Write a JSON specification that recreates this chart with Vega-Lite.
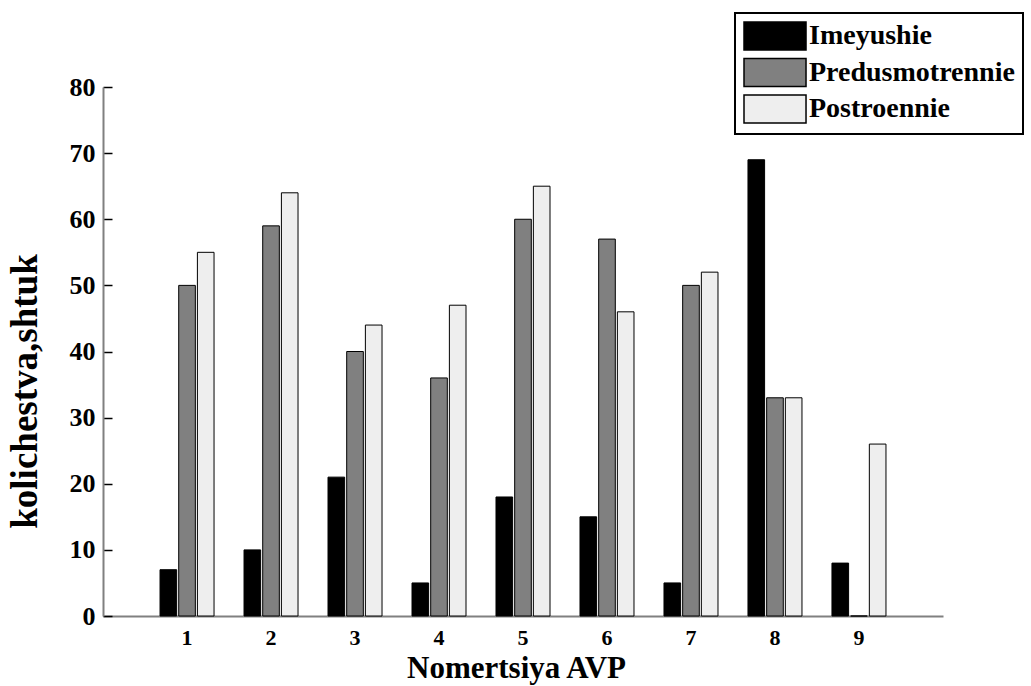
{
  "$schema": "https://vega.github.io/schema/vega-lite/v6.json",
  "autosize": "none",
  "padding": {"left": 103, "top": 87, "right": 88, "bottom": 70},
  "width": 840,
  "height": 529,
  "background": "white",
  "data": {
    "values": [
      {"n": "1", "series": "Imeyushie", "v": 7},
      {"n": "1", "series": "Predusmotrennie", "v": 50},
      {"n": "1", "series": "Postroennie", "v": 55},
      {"n": "2", "series": "Imeyushie", "v": 10},
      {"n": "2", "series": "Predusmotrennie", "v": 59},
      {"n": "2", "series": "Postroennie", "v": 64},
      {"n": "3", "series": "Imeyushie", "v": 21},
      {"n": "3", "series": "Predusmotrennie", "v": 40},
      {"n": "3", "series": "Postroennie", "v": 44},
      {"n": "4", "series": "Imeyushie", "v": 5},
      {"n": "4", "series": "Predusmotrennie", "v": 36},
      {"n": "4", "series": "Postroennie", "v": 47},
      {"n": "5", "series": "Imeyushie", "v": 18},
      {"n": "5", "series": "Predusmotrennie", "v": 60},
      {"n": "5", "series": "Postroennie", "v": 65},
      {"n": "6", "series": "Imeyushie", "v": 15},
      {"n": "6", "series": "Predusmotrennie", "v": 57},
      {"n": "6", "series": "Postroennie", "v": 46},
      {"n": "7", "series": "Imeyushie", "v": 5},
      {"n": "7", "series": "Predusmotrennie", "v": 50},
      {"n": "7", "series": "Postroennie", "v": 52},
      {"n": "8", "series": "Imeyushie", "v": 69},
      {"n": "8", "series": "Predusmotrennie", "v": 33},
      {"n": "8", "series": "Postroennie", "v": 33},
      {"n": "9", "series": "Imeyushie", "v": 8},
      {"n": "9", "series": "Predusmotrennie", "v": 0},
      {"n": "9", "series": "Postroennie", "v": 26}
    ]
  },
  "mark": {"type": "bar", "stroke": "black", "strokeWidth": 1},
  "encoding": {
    "x": {
      "field": "n",
      "type": "ordinal",
      "scale": {"paddingInner": 0.357, "paddingOuter": 0.679},
      "axis": {
        "title": "Nomertsiya AVP",
        "labelAngle": 0,
        "ticks": false,
        "labelPadding": 11,
        "labelFontSize": 22,
        "titleX": 413,
        "titleY": 61,
        "titleAlign": "center",
        "titleBaseline": "alphabetic",
        "titleFontSize": 31
      }
    },
    "xOffset": {
      "field": "series",
      "type": "nominal",
      "sort": ["Imeyushie", "Predusmotrennie", "Postroennie"],
      "scale": {"paddingInner": 0.11, "paddingOuter": 0}
    },
    "y": {
      "field": "v",
      "type": "quantitative",
      "scale": {"domain": [0, 80], "nice": false},
      "axis": {
        "title": "kolichestva,shtuk",
        "values": [0, 10, 20, 30, 40, 50, 60, 70, 80],
        "grid": false,
        "tickSize": -9,
        "tickColor": "black",
        "tickWidth": 1.5,
        "labelPadding": 17,
        "labelFontSize": 26,
        "titleX": -67,
        "titleY": 304,
        "titleAngle": -90,
        "titleAlign": "center",
        "titleBaseline": "alphabetic",
        "titleFontSize": 37
      }
    },
    "color": {
      "field": "series",
      "type": "nominal",
      "sort": ["Imeyushie", "Predusmotrennie", "Postroennie"],
      "scale": {
        "domain": ["Imeyushie", "Predusmotrennie", "Postroennie"],
        "range": ["#000000", "#808080", "#eeeeee"]
      },
      "legend": {
        "title": null,
        "orient": "none",
        "legendX": 632,
        "legendY": -74,
        "padding": 8,
        "strokeColor": "black",
        "symbolType": "M-1,-1H3.43V1H-1Z",
        "symbolSize": 784,
        "symbolStrokeColor": "black",
        "symbolStrokeWidth": 1.5,
        "symbolOpacity": 1,
        "labelFont": "Liberation Serif",
        "labelFontWeight": "bold",
        "labelFontSize": 28,
        "labelColor": "black",
        "labelOffset": 36,
        "labelLimit": 400,
        "rowPadding": 2.5,
        "encode": {"legend": {"update": {"strokeWidth": {"value": 2}}}}
      }
    }
  },
  "config": {
    "view": {"stroke": null},
    "font": "Liberation Serif",
    "axis": {
      "labelFont": "Liberation Serif",
      "labelFontWeight": "bold",
      "labelColor": "black",
      "titleFont": "Liberation Serif",
      "titleFontWeight": "bold",
      "titleColor": "black",
      "domainColor": "#808080",
      "domainWidth": 2
    }
  }
}
